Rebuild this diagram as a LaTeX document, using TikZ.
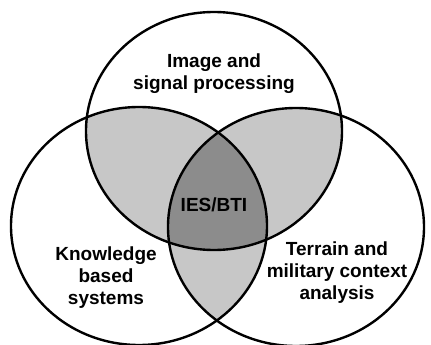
\documentclass[tikz,border=0pt]{standalone}
\usepackage{fontspec}
\setmainfont{Liberation Sans}
\usetikzlibrary{positioning}
\tikzstyle{area}=[draw=black,line width=2.4pt]
\tikzstyle{lens}=[fill=black!22]
\tikzstyle{core}=[fill=black!45]
\tikzstyle{label}=[align=center,font=\bfseries\fontsize{19}{22}\selectfont,inner sep=0pt]

\begin{document}
\begin{tikzpicture}[x=1pt,y=-1pt]
  \useasboundingbox (0,0) rectangle (431,345);

  \coordinate (imgC) at (214,131);
  \coordinate (kbsC) at (139,226);
  \coordinate (terC) at (296,227);

  % Pairwise overlaps

  \begin{scope}
    \clip (imgC) ellipse [x radius=128pt, y radius=119pt];
    \fill[lens] (kbsC) ellipse [x radius=128pt, y radius=119pt];
    \fill[lens] (terC) ellipse [x radius=128pt, y radius=119pt];
  \end{scope}
  \begin{scope}
    \clip (kbsC) ellipse [x radius=128pt, y radius=119pt];
    \fill[lens] (terC) ellipse [x radius=128pt, y radius=119pt];
  \end{scope}

  % Common part of all three

  \begin{scope}
    \clip (imgC) ellipse [x radius=128pt, y radius=119pt];
    \clip (kbsC) ellipse [x radius=128pt, y radius=119pt];
    \fill[core] (terC) ellipse [x radius=128pt, y radius=119pt];
  \end{scope}

  % Outlines

  \draw[area] (imgC) ellipse [x radius=128pt, y radius=119pt];
  \draw[area] (kbsC) ellipse [x radius=128pt, y radius=119pt];
  \draw[area] (terC) ellipse [x radius=128pt, y radius=119pt];

  % Labels

  \node[label] (img) at (214,74) {Image and\\signal processing};
  \node[label] (kbs) at (106,278) {Knowledge\\based\\systems};
  \node[label] (ter) at (337,273) {Terrain and\\military context\\analysis};
  \node[label] (core) at (214,205) {IES/BTI};
\end{tikzpicture}
\end{document}
